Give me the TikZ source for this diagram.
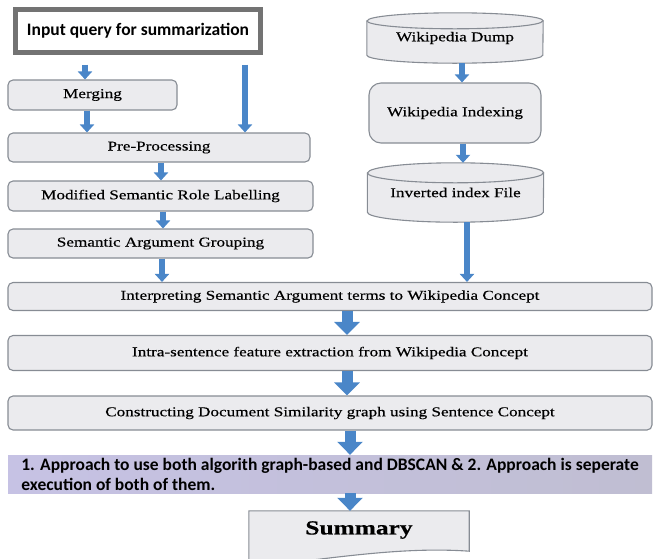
\documentclass[tikz,border=0pt]{standalone}
\usepackage{fontspec}
\setmainfont{Liberation Serif}[FakeStretch=1.27, FakeBold=0.4]
\newfontfamily\calibfont{Carlito}
\usepackage{tikz}
\usetikzlibrary{
    arrows.meta,
    calc,
    backgrounds
}

\definecolor{flowblue}{RGB}{74,134,200}
\definecolor{boxfill}{RGB}{235,235,238}
\definecolor{boxline}{RGB}{135,140,148}
\definecolor{inputline}{RGB}{115,115,115}
\definecolor{bandleft}{RGB}{198,194,228}
\definecolor{bandright}{RGB}{192,190,210}

% drum outline round a node: #1 node name, #2 cap radius
\newcommand{\drum}[2]{%
  \draw[drumline] ([yshift=-#2]#1.north west) -- ([yshift=#2]#1.south west)
    arc[start angle=180, end angle=360, x radius=88pt, y radius=#2]
    -- ([yshift=-#2]#1.north east)
    arc[start angle=0, end angle=180, x radius=88pt, y radius=#2] -- cycle;
  \draw[drumline, fill=none] ([yshift=-#2]#1.north west)
    arc[start angle=180, end angle=360, x radius=88pt, y radius=#2];
}

\begin{document}
\begin{tikzpicture}[x=1pt, y=-1pt,
    procbox/.style={draw=boxline, fill=boxfill, rounded corners=5pt, line width=1.1pt,
        inner sep=0pt, font=\fontsize{13.5pt}{16pt}\selectfont},
    widebox/.style={procbox, minimum width=644pt},
    drumnode/.style={inner sep=0pt, minimum width=176pt, font=\fontsize{13.5pt}{16pt}\selectfont},
    drumline/.style={draw=boxline, fill=boxfill, line width=1.1pt},
    inbox/.style={draw=inputline, fill=white, line width=5pt, inner sep=0pt,
        minimum width=245pt, minimum height=43pt,
        font=\calibfont\bfseries\fontsize{17.5pt}{20pt}\selectfont},
    bandbox/.style={left color=bandleft, right color=bandright, inner sep=2pt,
        minimum width=644pt, minimum height=38pt, align=left,
        font=\calibfont\bfseries\fontsize{17.5pt}{20pt}\selectfont},
    docline/.style={draw=boxline, fill=boxfill, line width=1.1pt},
    flow/.style={draw=flowblue, line width=6pt, -{Triangle[width=14pt, length=8pt]}},
    bigflow/.style={draw=flowblue, line width=11pt, -{Triangle[width=25pt, length=13pt]}}
]
\useasboundingbox (0,0) rectangle (657,558);

% Query side
\node[inbox] (query) at (138,31) {Input query for summarization};
\node[procbox, minimum width=169pt, minimum height=30pt] (merge) at (92.5,95) {Merging};
\node[procbox, minimum width=302pt, minimum height=29pt] (prep) at (159,147.5) {Pre-Processing};
\node[procbox, minimum width=305pt, minimum height=30pt] (msrl) at (160.5,196) {Modified Semantic Role Labelling};
\node[procbox, minimum width=305pt, minimum height=29pt] (sag) at (160.5,243.5) {Semantic Argument Grouping};

% Wikipedia side
\node[drumnode, minimum height=50pt] (dump) at (455,38) {Wikipedia Dump};
\node[procbox, rounded corners=12pt, minimum width=172pt, minimum height=60pt] (wikiidx) at (455,113) {Wikipedia Indexing};
\node[drumnode, minimum height=59pt] (invfile) at (455.5,192.5) {Inverted index File};

\begin{scope}[on background layer]
  \drum{dump}{8pt}
  \drum{invfile}{10pt}
\end{scope}

% Main chain
\node[widebox, minimum height=28pt] (interp) at (330,296.5) {Interpreting Semantic Argument terms to Wikipedia Concept};
\node[widebox, minimum height=35pt] (intra) at (330,353) {Intra-sentence feature extraction from Wikipedia Concept};
\node[widebox, minimum height=34pt] (construct) at (330,413) {Constructing Document Similarity graph using Sentence Concept};
\node[bandbox] (approach) at (330,474) {1. Approach to use both algorith graph-based and DBSCAN \& 2. Approach is seperate\\execution of both of them.};

% Summary
\node[minimum width=220pt, minimum height=38pt, inner sep=0pt,
      font=\bfseries\fontsize{20pt}{24pt}\selectfont] (summary) at (359,530) {Summary};
\begin{scope}[on background layer]
  \draw[docline] (summary.north west) -- (summary.north east) -- ([yshift=-2pt]summary.south east)
    .. controls +(-70pt,5pt) and +(80pt,8pt) .. ([yshift=-18pt]summary.south west) -- cycle;
\end{scope}

% Arrows
\draw[flow, shorten <=9.5pt] ([xshift=-53pt]query.south) -- ([xshift=-53pt]query.south |- merge.north);
\draw[flow, shorten <=9.5pt] ([xshift=107pt]query.south) -- ([xshift=107pt]query.south |- prep.north);
\draw[flow] ([xshift=-5.5pt]merge.south) -- ([xshift=-5.5pt]merge.south |- prep.north);
\draw[flow] ([xshift=2pt]prep.south) -- ([xshift=2pt]prep.south |- msrl.north);
\draw[flow] ([xshift=2.5pt]msrl.south) -- ([xshift=2.5pt]msrl.south |- sag.north);
\draw[flow] ([xshift=1.5pt]sag.south) -- ([xshift=1.5pt]sag.south |- interp.north);
\draw[flow] ([xshift=7pt]dump.south) -- ([xshift=7pt]dump.south |- wikiidx.north);
\draw[flow] ([xshift=8pt]wikiidx.south) -- ([xshift=8pt]wikiidx.south |- invfile.north);
\draw[flow] ([xshift=11.5pt]invfile.south) -- ([xshift=11.5pt]invfile.south |- interp.north);
\draw[bigflow] ([xshift=17pt]interp.south) -- ([xshift=17pt]interp.south |- intra.north);
\draw[bigflow] ([xshift=17pt]intra.south) -- ([xshift=17pt]intra.south |- construct.north);
\draw[bigflow] ([xshift=20pt]construct.south) -- ([xshift=20pt]construct.south |- approach.north);
\draw[bigflow] ([xshift=20pt]approach.south) -- ([xshift=20pt]approach.south |- summary.north);

\end{tikzpicture}
\end{document}
